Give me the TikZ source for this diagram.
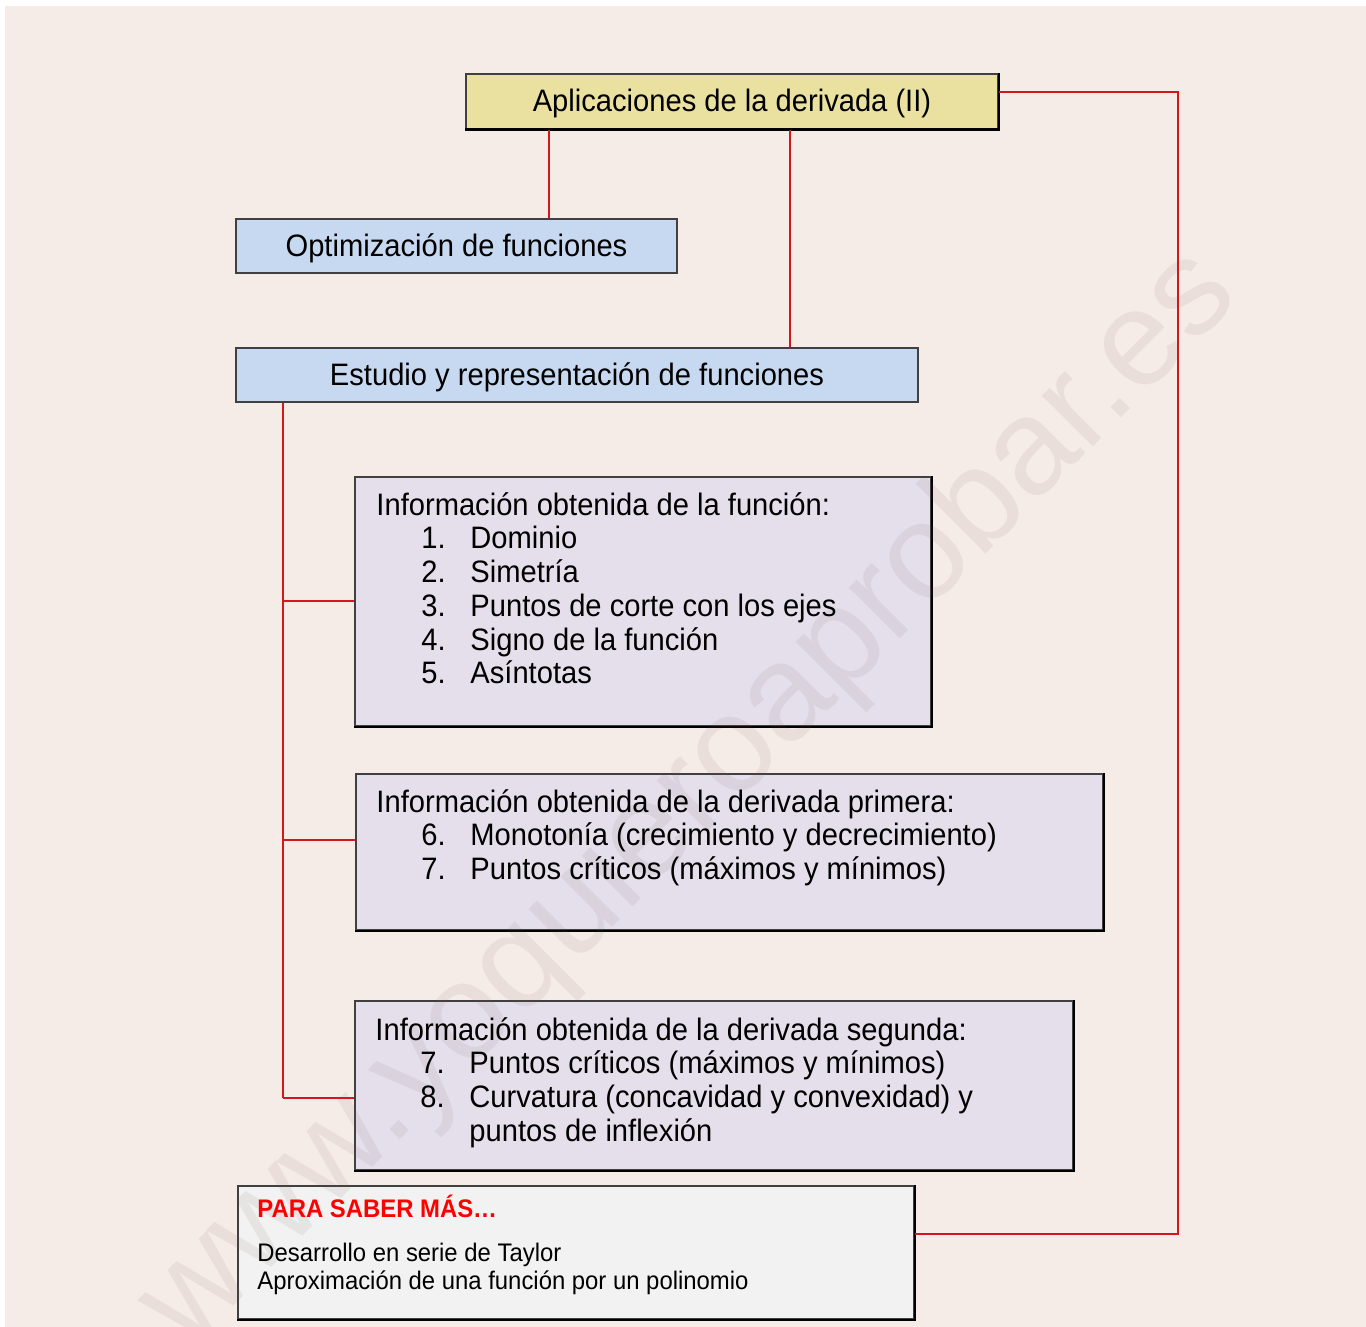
\documentclass[tikz,border=0pt]{standalone}
\usepackage{fontspec}
\setmainfont{Liberation Sans}[FakeStretch=0.94]
\newfontfamily\marcafont{Liberation Sans}
\usetikzlibrary{positioning, fit, calc}

\definecolor{fondo}{RGB}{245,236,231}
\definecolor{amarillo}{RGB}{234,225,160}
\definecolor{azul}{RGB}{198,217,240}
\definecolor{lila}{RGB}{228,223,235}
\definecolor{gris}{RGB}{242,242,242}
\definecolor{rojo}{RGB}{210,24,28}
\definecolor{marca}{RGB}{120,90,80}

\tikzset{
  caja/.style={draw=black!75, line width=1.5pt, inner sep=0pt},
  titulo/.style={caja, fill=amarillo, text height=24pt, text depth=3pt, font=\fontsize{31}{34}\selectfont},
  tema/.style={caja, fill=azul, text height=24pt, text depth=3pt, font=\fontsize{31}{34}\selectfont},
  info/.style={caja, fill=lila},
  saber/.style={caja, fill=gris},
  texto/.style={align=left, inner sep=0pt, font=\fontsize{31}{33.7}\selectfont},
  textochico/.style={align=left, inner sep=0pt, font=\fontsize{25.4}{28}\selectfont},
  enlace/.style={draw=rojo, line width=1.5pt},
  sombra/.style={draw=black, line width=2.5pt},
}
\newcommand{\punto}[2]{\hspace*{45pt}\makebox[49pt][l]{#1}#2}

\begin{document}
\begin{tikzpicture}[x=1pt, y=-1pt]
    \useasboundingbox (0,0) rectangle (1366,1327);
    \fill[fondo] (5,6) rectangle (1366,1327);
    % cajas principales
    \node[titulo, minimum width=532pt, minimum height=55pt] (apl) at (732,101.5) {Aplicaciones de la derivada (II)};
    \node[tema, minimum width=441pt, minimum height=54pt] (opt) at (456.5,246) {Optimización de funciones};
    \node[tema, minimum width=682pt, minimum height=54pt] (est) at (577,375) {Estudio y representación de funciones};
    \node[info, fit={(355,477) (931,726)}] (inf1) {};
    \node[info, fit={(356,774) (1103,930)}] (inf2) {};
    \node[info, fit={(355,1001) (1073,1170)}] (inf3) {};
    \node[saber, fit={(238,1186) (914,1319)}] (para) {};
    \foreach \c in {apl, inf1, inf2, inf3, para}
        \draw[sombra] (\c.north east) -- (\c.south east) -- (\c.south west);
    % marca de agua
    \node[text=marca, opacity=0.09, rotate=45, font=\marcafont\fontsize{136}{140}\selectfont] (web) at (690,800) {www.yoquieroaprobar.es};
    % textos (base = ultima linea)
    \node[texto, anchor=base west] (t1) at ($(inf1.north west)+(22,207.5)$) {Información obtenida de la función:\\
        \punto{1.}{Dominio}\\
        \punto{2.}{Simetría}\\
        \punto{3.}{Puntos de corte con los ejes}\\
        \punto{4.}{Signo de la función}\\
        \punto{5.}{Asíntotas}};
    \node[texto, anchor=base west] (t2) at ($(inf2.north west)+(21,106.4)$) {Información obtenida de la derivada primera:\\
        \punto{6.}{Monotonía (crecimiento y decrecimiento)}\\
        \punto{7.}{Puntos críticos (máximos y mínimos)}};
    \node[texto, anchor=base west] (t3) at ($(inf3.north west)+(21,141)$) {Información obtenida de la derivada segunda:\\
        \punto{7.}{Puntos críticos (máximos y mínimos)}\\
        \punto{8.}{Curvatura (concavidad y convexidad) y}\\
        \punto{}{puntos de inflexión}};
    \node[textochico, anchor=base west] (t4) at ($(para.north west)+(20,104)$) {\textbf{\color{red}PARA SABER MÁS…}\\[16pt]
        Desarrollo en serie de Taylor\\
        Aproximación de una función por un polinomio};
    % conectores
    \coordinate (c1) at (549,0);
    \coordinate (c2) at (790,0);
    \coordinate (r1) at (1178,92);
    \coordinate (r2) at (1178,1234);
    \coordinate (s) at (283,0);
    \coordinate (b1) at (283,601);
    \coordinate (b2) at (283,840);
    \coordinate (b3) at (283,1098);
    \draw[enlace] (apl.south -| c1) -- (opt.north -| c1);
    \draw[enlace] (apl.south -| c2) -- (est.north -| c2);
    \draw[enlace] (apl.east |- r1) -- (r1) -- (r2) -- (para.east |- r2);
    \draw[enlace] (est.south -| s) -- (b3);
    \foreach \i in {1,2,3}
        \draw[enlace] (b\i) -- (inf\i.west |- b\i);
\end{tikzpicture}
\end{document}
